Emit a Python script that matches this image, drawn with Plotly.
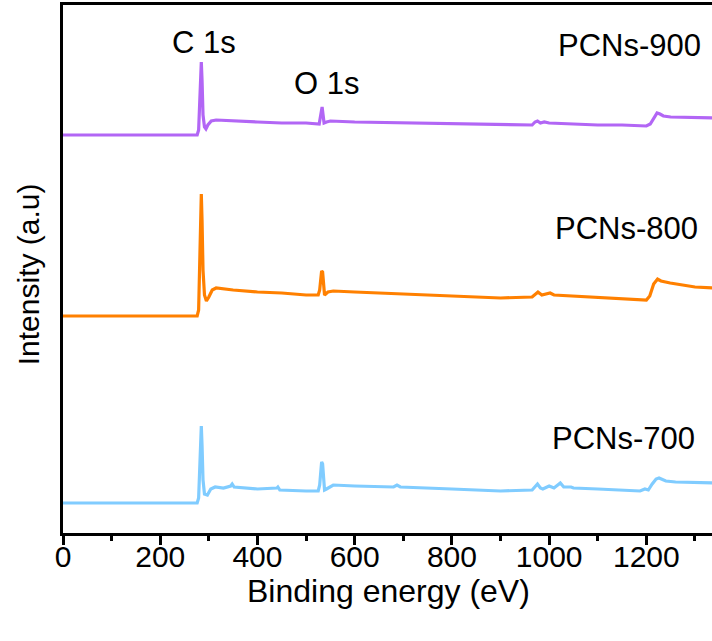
import plotly.graph_objects as go

# Binding energy (eV) sample points and intensities (a.u.)
e900 = [0, 276, 279, 281, 283, 284.5, 286, 288, 291, 294, 298, 305, 315, 350, 400, 450, 500, 527, 529, 531, 533, 535, 537, 542, 550, 600, 700, 800, 900, 965, 971, 976, 982, 990, 1000, 1050, 1100, 1150, 1200, 1208, 1215, 1222, 1228, 1235, 1250, 1300, 1340]
i900 = [398, 398, 403, 433, 467, 471, 453, 418, 406, 404, 408, 412, 413, 412, 411, 410, 410, 409, 415, 424, 426, 418, 410, 411, 412, 411, 410, 409, 408, 408, 411, 412, 410, 411, 410, 409, 408, 408, 407, 409, 415, 420, 419, 417, 416, 415, 415]

e800 = [0, 276, 279, 281, 283, 284.5, 286, 288, 291, 295, 300, 307, 315, 350, 400, 450, 500, 525, 528, 530, 532, 534, 536, 538, 545, 556, 600, 700, 800, 900, 965, 971, 977, 985, 995, 1002, 1010, 1050, 1100, 1150, 1200, 1207, 1215, 1223, 1230, 1249, 1300, 1340]
i800 = [217, 217, 223, 273, 333, 339, 313, 263, 238, 232, 236, 243, 245, 243, 241, 240, 238, 238, 243, 255, 262, 261, 248, 238, 241, 242, 241, 239, 237, 235, 236, 239, 241, 238, 239, 240, 238, 237, 235, 234, 233, 237, 249, 254, 252, 250, 246, 245]

e700 = [0, 276, 279, 281, 283, 284.5, 286, 288, 291, 297, 304, 313, 330, 345, 348, 352, 400, 440, 442, 446, 500, 525, 528, 530, 532, 534, 536, 538, 542, 556, 600, 680, 687, 694, 800, 900, 965, 971, 976, 982, 987, 1000, 1010, 1023, 1030, 1045, 1050, 1100, 1187, 1197, 1204, 1212, 1220, 1226, 1240, 1260, 1340]
i700 = [30, 30, 35, 63, 101, 107, 88, 53, 39, 38, 44, 46, 45, 47, 49, 46, 44, 45, 46, 43, 42, 42, 48, 63, 71, 69, 53, 43, 44, 48, 47, 46, 48, 46, 44, 42, 43, 46, 49, 45, 44, 47, 45, 50, 46, 46, 45, 44, 42, 44, 43, 49, 54, 55, 52, 51, 50]

series_names = ["PCNs-900", "PCNs-800", "PCNs-700"]
series_colors = ["#B266F5", "#FF8000", "#80CCFF"]
x_ticks = [0, 200, 400, 600, 800, 1000, 1200]

FONT = "Arial, Liberation Sans, sans-serif"

fig = go.Figure()
for xs, ys, name, col in zip([e900, e800, e700], [i900, i800, i700], series_names, series_colors):
    fig.add_trace(go.Scatter(x=xs, y=ys, mode="lines", name=name,
                             line=dict(color=col, width=3.2), showlegend=False))

ann = [
    dict(text="C 1s", x=290, y=491, xanchor="center", yanchor="middle"),
    dict(text="O 1s", x=543, y=450, xanchor="center", yanchor="middle"),
    dict(text="PCNs-900", x=1317, y=488, xanchor="right", yanchor="middle"),
    dict(text="PCNs-800", x=1311, y=305, xanchor="right", yanchor="middle"),
    dict(text="PCNs-700", x=1305, y=95, xanchor="right", yanchor="middle"),
]
for a in ann:
    fig.add_annotation(xref="x", yref="y", showarrow=False,
                       font=dict(family=FONT, size=31, color="black"), **a)

fig.add_annotation(text="Intensity (a.u)", xref="paper", yref="paper", x=-0.054, y=0.49,
                   xanchor="center", yanchor="middle", textangle=-90, showarrow=False,
                   font=dict(family=FONT, size=30, color="black"))
fig.add_annotation(text="Binding energy (eV)", xref="paper", yref="paper", x=0.502, y=-0.11,
                   xanchor="center", yanchor="middle", showarrow=False,
                   font=dict(family=FONT, size=32, color="black"))

fig.update_layout(
    width=712, height=641,
    margin=dict(l=63, r=0, t=5, b=108),
    plot_bgcolor="white", paper_bgcolor="white",
    xaxis=dict(range=[0, 1335], tickvals=x_ticks, ticks="outside", ticklen=9, tickwidth=2.5,
               tickcolor="black", showline=True, linecolor="black", linewidth=3, mirror=True,
               showgrid=False, zeroline=False, ticklabelstandoff=-14,
               tickfont=dict(family=FONT, size=30, color="black"),
               minor=dict(dtick=100, tick0=0, ticks="outside", ticklen=5, tickwidth=2.5, tickcolor="black")),
    yaxis=dict(range=[0, 528], showticklabels=False, ticks="", showline=True, linecolor="black",
               linewidth=3, showgrid=False, zeroline=False),
)

fig.write_html("out.html")
